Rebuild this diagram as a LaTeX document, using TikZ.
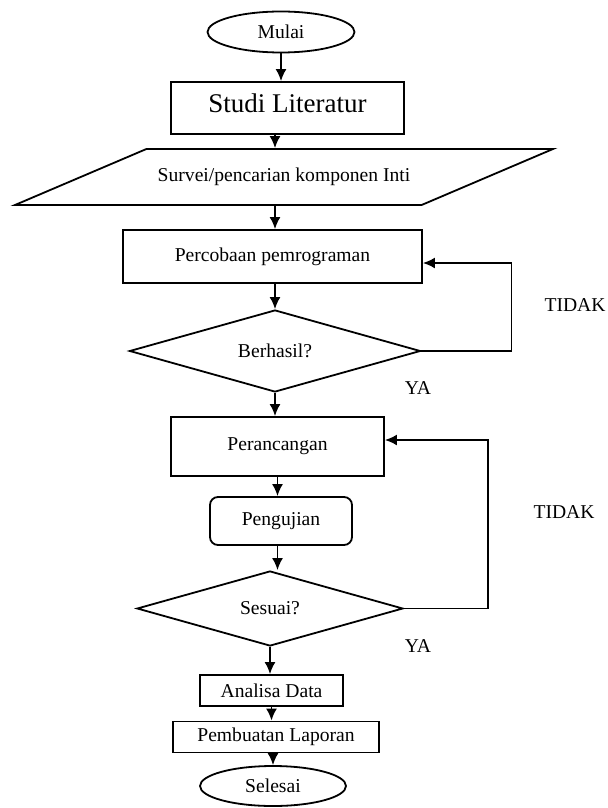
\documentclass[tikz,border=0pt]{standalone}
\usepackage{fontspec}
\setmainfont{Liberation Serif}
\usetikzlibrary{shapes.geometric,arrows.meta}
\begin{document}
\begin{tikzpicture}[x=0.5pt,y=-0.5pt,font=\fontsize{9.8}{11}\selectfont,
  term/.style={ellipse,draw,line width=0.9pt},
  box/.style={rectangle,draw,line width=0.9pt},
  rbox/.style={rectangle,draw,rounded corners=4pt,line width=0.9pt},
  io/.style={trapezium,draw,trapezium left angle=23,trapezium right angle=157,trapezium stretches body=true,inner ysep=9.5pt,line width=0.9pt},
  dec/.style={diamond,draw,aspect=3.55,inner sep=1pt,line width=0.9pt},
  e/.style={line width=0.9pt,-{Latex[length=6pt,width=5.5pt]}}]
\useasboundingbox (0,0) rectangle (608,808);
\node[term,minimum width=73.5pt,minimum height=20.5pt] (1) at (281,32) {Mulai};
\node[box,minimum width=116.5pt,minimum height=26pt,font=\fontsize{13.5}{15}\selectfont] (2) at (287.5,108) {\raisebox{5pt}{Studi Literatur}};
\node[io,minimum width=269pt,minimum height=28pt] (3) at (284,177) {Survei/pencarian komponen Inti};
\node[box,minimum width=149.5pt,minimum height=26.5pt] (4) at (272.5,256.5) {Percobaan pemrograman};
\node[dec,minimum width=145.5pt,minimum height=41pt] (5) at (275,351) {Berhasil?};
\node[box,minimum width=106.5pt,minimum height=29.5pt] (6) at (277.5,446.5) {Perancangan};
\node[rbox,minimum width=71pt,minimum height=24pt] (7) at (281,521) {Pengujian};
\node[dec,minimum width=133pt,minimum height=37.5pt] (8) at (270,608.5) {Sesuai?};
\node[box,minimum width=71.5pt,minimum height=15.5pt] (9) at (271.5,690.5) {Analisa Data};
\node[box,minimum width=103pt,minimum height=15pt] (10) at (276,737) {Pembuatan Laporan};
\node[term,minimum width=73pt,minimum height=20pt] (11) at (273,786) {Selesai};
\node (t1) at (575,305) {TIDAK};
\node (y1) at (418,388) {YA};
\node (t2) at (564,512) {TIDAK};
\node (y2) at (418,646) {YA};
\draw[e] (1.south) -- (1.south |- 2.north);
\draw[e] (2.south -| 5) -- (3.north -| 5);
\draw[e] (3.south -| 5) -- (4.north -| 5);
\draw[e] (4.south -| 5) -- (5.north);
\draw[e] (5.south) -- (6.north -| 5);
\draw[e] (6.south) -- (6.south |- 7.north);
\draw[e] (7.south -| 6) -- (8.north -| 6);
\draw[e] (8.south) -- (8.south |- 9.north);
\draw[e] (9.south) -- (9.south |- 10.north);
\draw[e] (10.south -| 11) -- (11.north);
\draw[e] (5.east) -- ++(90,0) |- ([yshift=-3.25pt]4.east);
\draw[e] (8.east) -- ++(84,0) |- ([yshift=3.25pt]6.east);
\end{tikzpicture}
\end{document}
